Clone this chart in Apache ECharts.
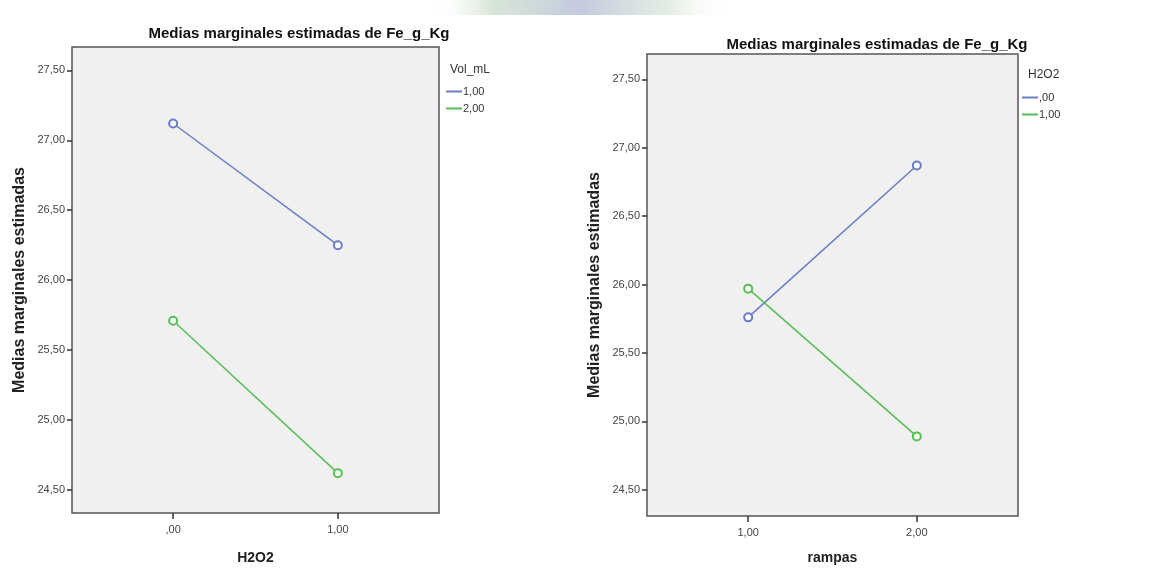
<!DOCTYPE html>
<html><head><meta charset="utf-8">
<script src="https://cdn.jsdelivr.net/npm/echarts@6/dist/echarts.min.js"></script>
<style>html,body{margin:0;padding:0;background:#fff}#c{width:1159px;height:579px}</style>
</head><body><div id="c"></div>
<script>
const chartTitle = "Medias marginales estimadas de Fe_g_Kg";
const yAxisTitle = "Medias marginales estimadas";
const yTicks = [24.5, 25.0, 25.5, 26.0, 26.5, 27.0, 27.5];
// Left panel
const leftX = [0, 1];
const leftXName = "H2O2";
const leftLegendTitle = "Vol_mL";
const leftSeriesNames = ["1,00", "2,00"];
const leftVol1 = [27.12, 26.25];
const leftVol2 = [25.71, 24.62];
// Right panel
const rightX = [1, 2];
const rightXName = "rampas";
const rightLegendTitle = "H2O2";
const rightSeriesNames = [",00", "1,00"];
const rightH0 = [25.76, 26.87];
const rightH1 = [25.97, 24.89];

const FONT = "'Liberation Sans',Arial,sans-serif";
const BLUE = '#6a7cc6', GREEN = '#55bf55';
function fmt(v){ let s = v.toFixed(2).replace('.', ','); if (s.startsWith('0,')) s = s.slice(1); return s; }

function xAxis(idx, xs, name, min, max, gap){
  return {type:'value', gridIndex: idx, min, max, name, nameLocation:'middle', nameGap:gap,
    nameTextStyle:{fontFamily:FONT, fontWeight:'bold', fontSize:14, color:'#222'},
    axisLine:{show:false, onZero:false}, splitLine:{show:false},
    axisTick:{show:true, customValues: xs, length:6, lineStyle:{color:'#333', width:1.5}},
    axisLabel:{customValues: xs, formatter: fmt, fontFamily:FONT, fontSize:11, color:'#444', margin:11}};
}
function yAxis(idx, min, max){
  return {type:'value', gridIndex: idx, min, max, name: yAxisTitle, nameLocation:'middle', nameGap:44,
    nameTextStyle:{fontFamily:FONT, fontWeight:'bold', fontSize:16, color:'#222'},
    axisLine:{show:false, onZero:false}, splitLine:{show:false},
    axisTick:{show:true, customValues: yTicks, length:5, lineStyle:{color:'#333', width:1.5}},
    axisLabel:{customValues: yTicks, formatter: fmt, fontFamily:FONT, fontSize:11, color:'#444', margin:7}};
}
function line(name, idx, xs, ys, color){
  return {name, type:'line', xAxisIndex: idx, yAxisIndex: idx, data: xs.map((x,i)=>[x, ys[i]]),
    symbol:'emptyCircle', symbolSize:8, lineStyle:{color, width:1.5}, itemStyle:{color, borderWidth:1.2}};
}
function legendItems(names, colors){
  return names.map((n,i)=>({name:n, itemStyle:{color:colors[i]}}));
}
const gridStyle = {show:true, backgroundColor:'#f0f0f0', borderColor:'#555', borderWidth:1.5};
const chart = echarts.init(document.getElementById('c'), null, {renderer:'canvas'});
chart.setOption({
  animation:false,
  graphic:[
    {type:'rect', left:430, top:0, shape:{width:300, height:15},
     style:{fill:new echarts.graphic.LinearGradient(0,0,1,0,[
       {offset:0, color:'rgba(255,255,255,0)'},{offset:0.2,color:'rgba(190,215,190,0.6)'},
       {offset:0.5, color:'rgba(170,180,210,0.7)'},{offset:0.8,color:'rgba(200,220,200,0.5)'},
       {offset:1, color:'rgba(255,255,255,0)'}])}, z:-1}
  ],
  title:[
    {text: chartTitle, left: 294, top: 21, textAlign:'center', textStyle:{fontFamily:FONT, fontSize:15, fontWeight:'bold', color:'#111'}},
    {text: chartTitle, left: 872, top: 32, textAlign:'center', textStyle:{fontFamily:FONT, fontSize:15, fontWeight:'bold', color:'#111'}},
    {text: leftLegendTitle, left: 445, top: 59, textStyle:{fontFamily:FONT, fontSize:12, fontWeight:'normal', color:'#333'}},
    {text: rightLegendTitle, left: 1023, top: 64, textStyle:{fontFamily:FONT, fontSize:12, fontWeight:'normal', color:'#333'}}
  ],
  legend:[
    {data: legendItems(leftSeriesNames,[BLUE,GREEN]), orient:'vertical', left: 441, top: 81, itemWidth:16, itemHeight:2, itemGap:6, icon:'rect',
     selectedMode:false, textStyle:{fontFamily:FONT, fontSize:11, color:'#333', padding:[0,0,0,-4]}},
    {data: legendItems(rightSeriesNames,[BLUE,GREEN]), orient:'vertical', left: 1017, top: 87, itemWidth:16, itemHeight:2, itemGap:6, icon:'rect',
     selectedMode:false, textStyle:{fontFamily:FONT, fontSize:11, color:'#333', padding:[0,0,0,-4]}}
  ],
  grid:[
    Object.assign({left:72, top:47, width:367, height:466}, gridStyle),
    Object.assign({left:647, top:54, width:371, height:462}, gridStyle)
  ],
  xAxis:[ xAxis(0, leftX, leftXName, -0.614, 1.614, 38), xAxis(1, rightX, rightXName, 0.4, 2.6, 35) ],
  yAxis:[ yAxis(0, 24.335, 27.667), yAxis(1, 24.308, 27.685) ],
  series:[
    line(leftSeriesNames[0], 0, leftX, leftVol1, BLUE),
    line(leftSeriesNames[1], 0, leftX, leftVol2, GREEN),
    line(rightSeriesNames[0], 1, rightX, rightH0, BLUE),
    line(rightSeriesNames[1], 1, rightX, rightH1, GREEN)
  ]
});
</script></body></html>
